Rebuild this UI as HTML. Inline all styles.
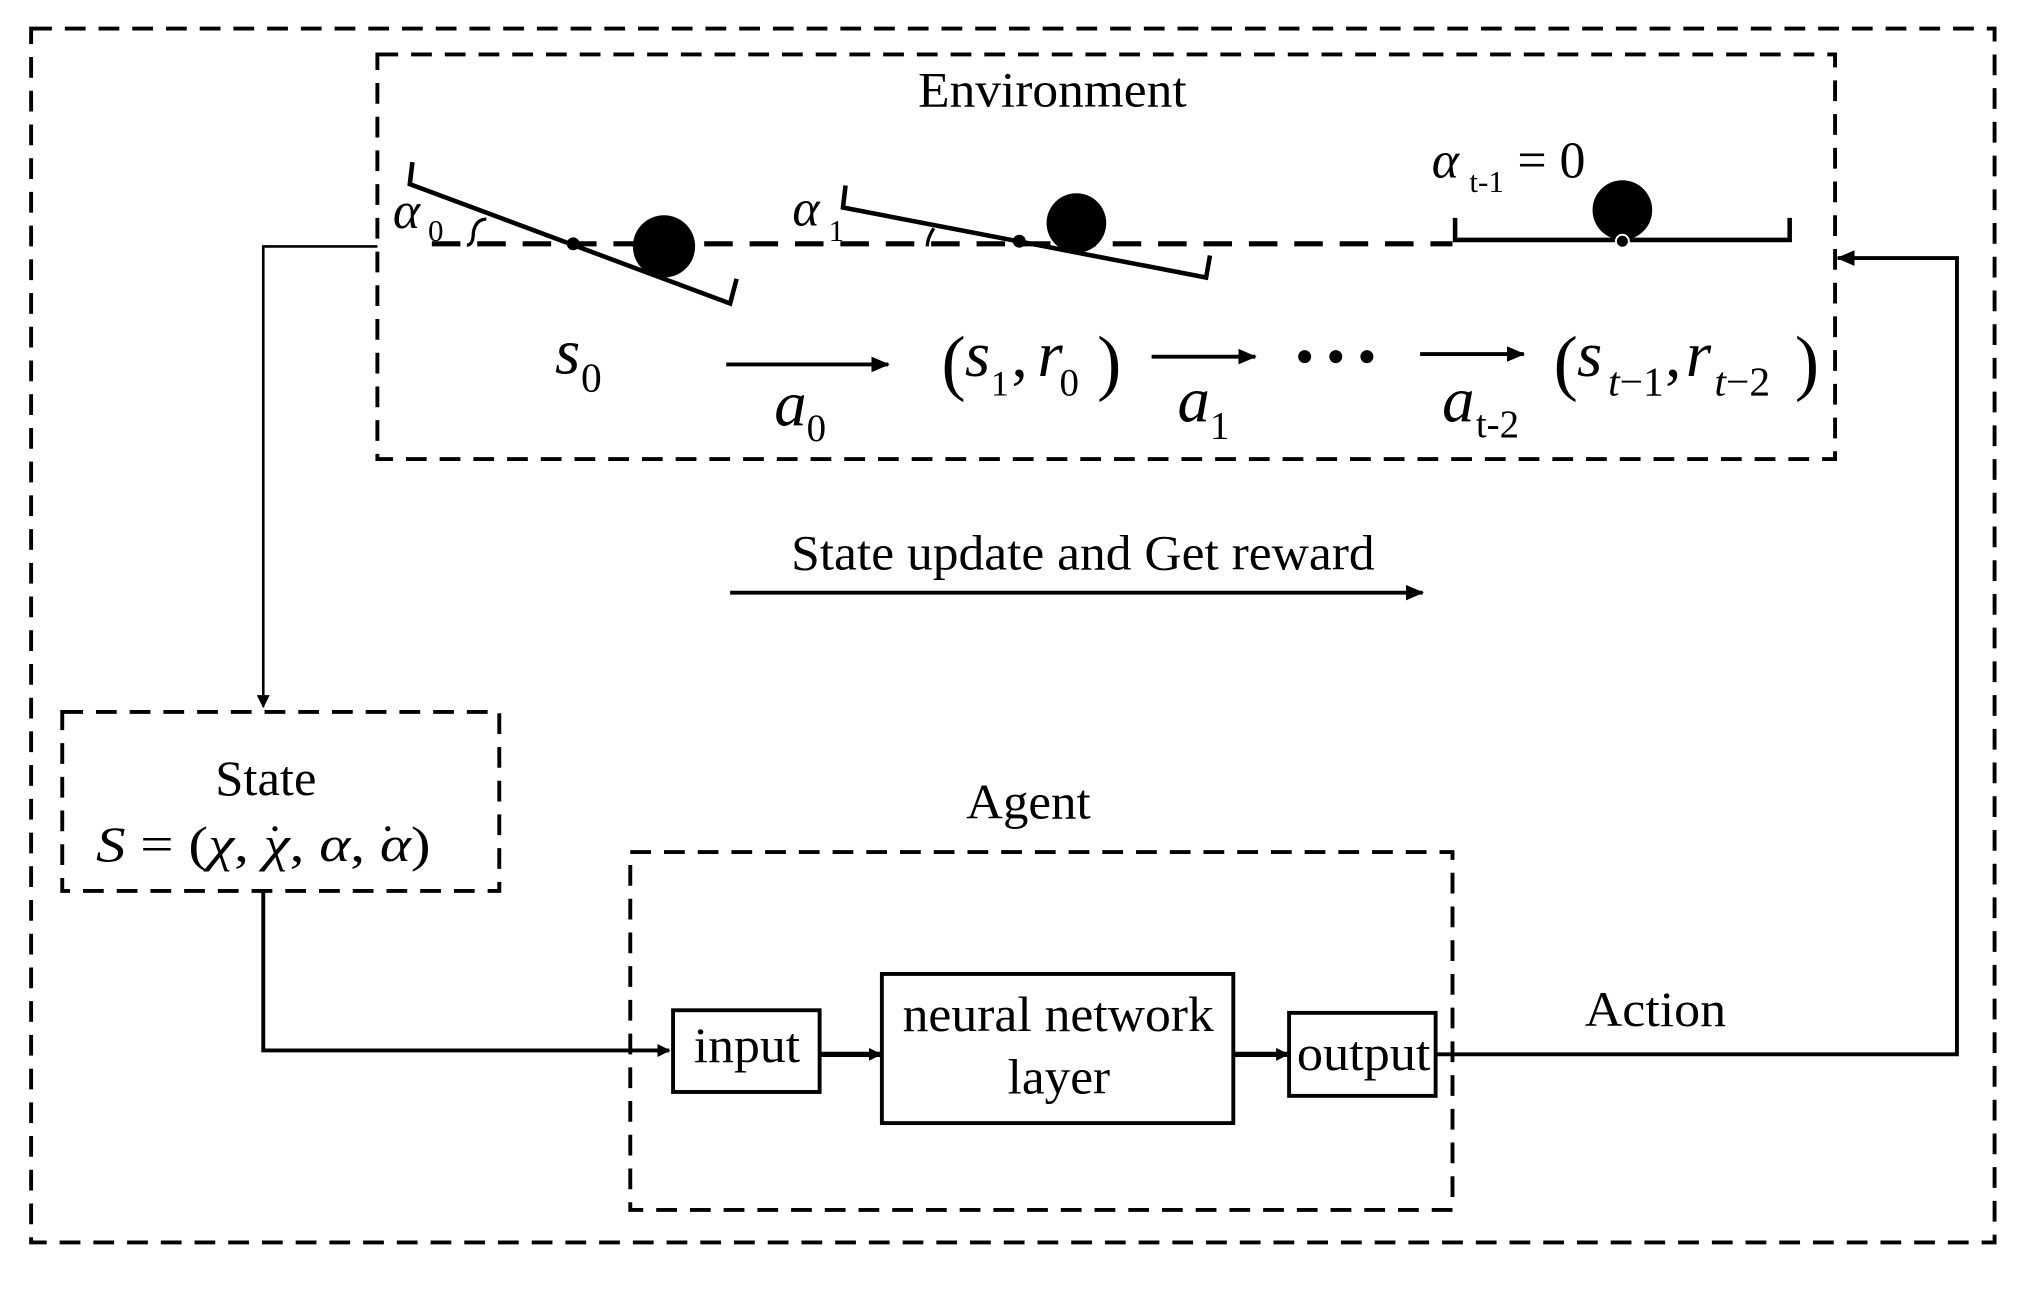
<!DOCTYPE html>
<html><head><meta charset="utf-8"><style>
html,body{margin:0;padding:0;background:#fff}
svg{display:block}
text{font-family:"Liberation Serif",serif;fill:#000}
.i{font-style:italic}
</style></head><body>
<svg width="2027" height="1290" viewBox="0 0 1563 994.7" preserveAspectRatio="none" xmlns="http://www.w3.org/2000/svg">
<defs>
<marker id="ah" markerWidth="10" markerHeight="10" refX="9" refY="5" orient="auto" markerUnits="userSpaceOnUse"><path d="M0,0 L10,5 L0,10 z"/></marker>
<marker id="ah2" markerWidth="14" markerHeight="12" refX="13" refY="6" orient="auto" markerUnits="userSpaceOnUse"><path d="M0,0 L14,6 L0,12 z"/></marker>
</defs>
<g fill="none" stroke="#000" stroke-width="3" stroke-dasharray="16,10">
<rect x="24" y="22" width="1514" height="936"/>
<rect x="291" y="42" width="1124" height="312"/>
<rect x="48" y="549" width="337" height="138"/>
<rect x="486" y="657" width="634" height="276"/>
</g>
<text x="708" y="82" font-size="38" textLength="207" lengthAdjust="spacingAndGlyphs">Environment</text>
<line x1="333" y1="188" x2="1120" y2="188" stroke="#000" stroke-width="4" stroke-dasharray="22,13"/>
<g stroke="#000" stroke-width="3.5" fill="none">
<polyline points="318,125 316,142 563,234 568,215"/>
<polyline points="652,143 650,160 930,214 933,197"/>
<polyline points="1122,168 1122,185 1380,185 1380,168"/>
<path d="M360,189 q5,0 5,-10 q2,-10 10,-10" stroke-width="2.5"/>
<path d="M715,190 q0,-6 5,-14" stroke-width="2.5"/>
</g>
<circle cx="442" cy="188" r="5"/><circle cx="512" cy="190" r="24"/>
<circle cx="786" cy="186" r="5"/><circle cx="830" cy="172" r="23"/>
<circle cx="1251" cy="162" r="23"/><circle cx="1251" cy="186" r="5" stroke="#fff" stroke-width="1.5"/>
<text x="303" y="176" font-size="40" class="i">α</text><text x="330" y="186" font-size="24">0</text>
<text x="611" y="174" font-size="40" class="i">α</text><text x="639" y="186" font-size="24">1</text>
<text x="1104" y="137" font-size="40" class="i">α</text><text x="1133" y="148" font-size="24">t-1</text><text x="1170" y="137" font-size="40">= 0</text>
<text x="428" y="288" font-size="50" class="i">s</text><text x="448" y="302" font-size="32">0</text>
<line x1="560" y1="281" x2="685" y2="281" stroke="#000" stroke-width="3" marker-end="url(#ah2)"/>
<text x="597" y="328" font-size="50" class="i">a</text><text x="622" y="340" font-size="30">0</text>
<text x="726" y="298" font-size="56">(</text><text x="744" y="290" font-size="50" class="i">s</text><text x="764" y="305" font-size="28">1</text><text x="780" y="290" font-size="50">,</text><text x="800" y="290" font-size="50" class="i">r</text><text x="817" y="305" font-size="30">0</text><text x="846" y="298" font-size="56">)</text>
<line x1="888" y1="275" x2="968" y2="275" stroke="#000" stroke-width="3" marker-end="url(#ah2)"/>
<text x="908" y="325" font-size="50" class="i">a</text><text x="933" y="338" font-size="30">1</text>
<circle cx="1006" cy="275" r="5"/><circle cx="1030" cy="275" r="5"/><circle cx="1054" cy="275" r="5"/>
<line x1="1095" y1="273" x2="1175" y2="273" stroke="#000" stroke-width="3" marker-end="url(#ah2)"/>
<text x="1112" y="325" font-size="50" class="i">a</text><text x="1138" y="337" font-size="30">t-2</text>
<text x="1198" y="298" font-size="56">(</text><text x="1216" y="290" font-size="50" class="i">s</text><text x="1240" y="305" font-size="32"><tspan class="i">t</tspan>−1</text><text x="1284" y="290" font-size="50">,</text><text x="1300" y="290" font-size="50" class="i">r</text><text x="1322" y="305" font-size="32"><tspan class="i">t</tspan>−2</text><text x="1384" y="298" font-size="56">)</text>
<text x="610" y="439" font-size="38" textLength="450" lengthAdjust="spacingAndGlyphs">State update and Get reward</text>
<line x1="563" y1="457" x2="1097" y2="457" stroke="#000" stroke-width="3" marker-end="url(#ah2)"/>
<polyline points="291,190 203,190 203,545" fill="none" stroke="#000" stroke-width="2" marker-end="url(#ah)"/>
<text x="166" y="613" font-size="38" textLength="78" lengthAdjust="spacingAndGlyphs">State</text>
<text x="74" y="664" font-size="38" textLength="258" lengthAdjust="spacingAndGlyphs"><tspan class="i">S</tspan> = (<tspan class="i">χ</tspan>, <tspan class="i">χ</tspan>, <tspan class="i">α</tspan>, <tspan class="i">α</tspan>)</text>
<circle cx="212" cy="639" r="2"/><circle cx="299" cy="639" r="2"/>
<polyline points="203,687 203,810 516,810" fill="none" stroke="#000" stroke-width="3" marker-end="url(#ah)"/>
<text x="745" y="631" font-size="38" textLength="96" lengthAdjust="spacingAndGlyphs">Agent</text>
<g fill="none" stroke="#000" stroke-width="3">
<rect x="519" y="779" width="113" height="63"/>
<rect x="680" y="751" width="271" height="115"/>
<rect x="994" y="781" width="113" height="64"/>
</g>
<line x1="632" y1="813" x2="679" y2="813" stroke="#000" stroke-width="4" marker-end="url(#ah)"/>
<line x1="951" y1="813" x2="993" y2="813" stroke="#000" stroke-width="4" marker-end="url(#ah)"/>
<text x="535" y="819" font-size="38" textLength="82" lengthAdjust="spacingAndGlyphs">input</text>
<text x="696" y="795" font-size="38" textLength="240" lengthAdjust="spacingAndGlyphs">neural network</text>
<text x="777" y="843" font-size="38" textLength="79" lengthAdjust="spacingAndGlyphs">layer</text>
<text x="1000" y="825" font-size="38" textLength="103" lengthAdjust="spacingAndGlyphs">output</text>
<text x="1222" y="791" font-size="38" textLength="109" lengthAdjust="spacingAndGlyphs">Action</text>
<polyline points="1107,813 1509,813 1509,199 1417,199" fill="none" stroke="#000" stroke-width="3" marker-end="url(#ah2)"/>
</svg>
</body></html>
